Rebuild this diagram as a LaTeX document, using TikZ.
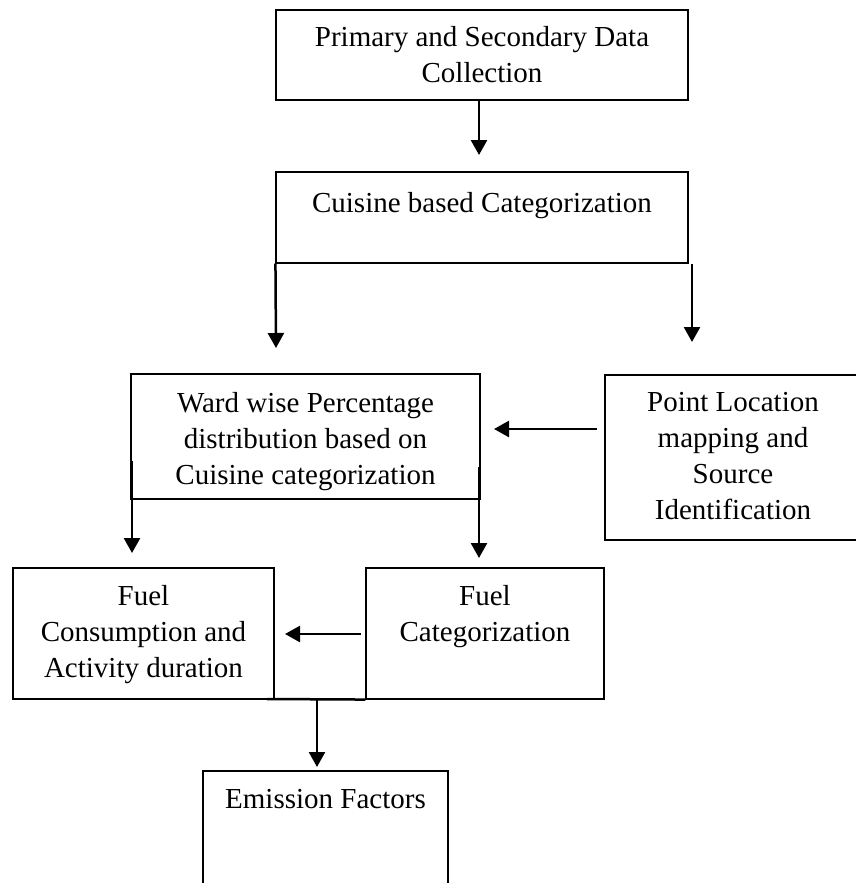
\documentclass[tikz,border=0pt]{standalone}
\usepackage{fontspec}
\setmainfont{Liberation Serif}
\usetikzlibrary{arrows.meta}

\tikzset{
  box/.style={draw=black, line width=1.1pt, rectangle, inner sep=0pt},
  label text/.style={align=center, inner sep=0pt, font=\fontsize{29}{36}\selectfont},
  flow/.style={line width=2.5pt, -{Triangle[width=16pt,length=15pt]}},
  joint/.style={line width=2.5pt}
}

\begin{document}
\begin{tikzpicture}[x=1pt, y=-1pt]
  \clip (0,0) rectangle (856,883);
  \fill[white] (0,0) rectangle (856,883);

  % boxes
  \node[box, minimum width=412pt, minimum height=90pt]  (collect) at (482,55) {};
  \node[box, minimum width=412pt, minimum height=91pt]  (cuisine) at (482,217.5) {};
  \node[box, minimum width=349pt, minimum height=125pt] (ward)    at (305.5,436.5) {};
  \node[box, minimum width=265pt, minimum height=165pt] (point)   at (737.5,457.5) {};
  \node[box, minimum width=261pt, minimum height=131pt] (fuelcons) at (143.5,633.5) {};
  \node[box, minimum width=238pt, minimum height=131pt] (fuelcat)  at (485,633.5) {};
  \node[box, minimum width=245pt, minimum height=129pt] (emission) at (325.5,835.5) {};

  % box texts
  \node[label text] (collect-t)  at (482,55)    {Primary and Secondary Data\\Collection};
  \node[label text] (cuisine-t)  at (482,206)   {Cuisine based Categorization};
  \node[label text] (ward-t)     at (305.5,442) {Ward wise Percentage\\distribution based on\\Cuisine categorization};
  \node[label text] (point-t)    at (733,456.5) {Point Location\\mapping and\\Source\\Identification};
  \node[label text] (fuelcons-t) at (143.5,634.5) {Fuel\\Consumption and\\Activity duration};
  \node[label text] (fuelcat-t)  at (485,616.5) {Fuel\\Categorization};
  \node[label text] (emission-t) at (325.5,799) {Emission Factors};

  % arrow end points
  \coordinate (c1)  at (479,155);
  \coordinate (c2l) at (276,348);
  \coordinate (c2r) at (692,342);
  \coordinate (c3l) at (132,553);
  \coordinate (c3r) at (479,558);
  \coordinate (s3l) at (132,461);
  \coordinate (s3r) at (479,467);
  \coordinate (c4)  at (494,429);
  \coordinate (s4)  at (597,429);
  \coordinate (c5)  at (285,634);
  \coordinate (s5)  at (361,634);
  \coordinate (m6)  at (317,699);
  \coordinate (j6l) at (267,699);
  \coordinate (c6)  at (317,767);

  % connectors
  \draw[flow] (collect.south -| c1) -- (c1);
  \draw[flow] (cuisine.south west) -- (c2l);
  \draw[flow] (cuisine.south -| c2r) -- (c2r);
  \draw[flow] (s3l) -- (c3l);
  \draw[flow] (s3r) -- (c3r);
  \draw[flow] (s4) -- (c4);
  \draw[flow] (s5) -- (c5);
  \draw[joint] (j6l) -- (fuelcat.south west);
  \draw[flow] (m6) -- (c6);
\end{tikzpicture}
\end{document}
